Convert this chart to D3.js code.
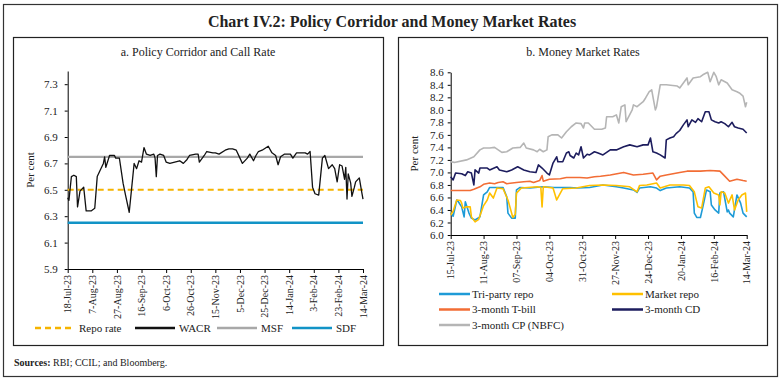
<!DOCTYPE html>
<html>
<head>
<meta charset="utf-8">
<script src="https://cdn.jsdelivr.net/npm/d3@7"></script>
<style>
  body { margin: 0; background: #fff; }
  svg { display: block; font-family: "Liberation Serif", serif; }
</style>
</head>
<body>
<svg width="781" height="382"></svg>
<script>
/* global d3 */

var parse = d3.timeParse("%Y-%m-%d");

// ---- panel a: policy corridor and call rate ----
var wacrDates = [
  "2023-07-18","2023-07-19","2023-07-21","2023-07-23","2023-07-25","2023-07-26","2023-07-28","2023-07-31",
  "2023-08-02","2023-08-06","2023-08-09","2023-08-11","2023-08-13","2023-08-16","2023-08-17","2023-08-18","2023-08-21","2023-08-25","2023-08-26","2023-08-29",
  "2023-09-01","2023-09-03","2023-09-06","2023-09-10","2023-09-12","2023-09-14","2023-09-16","2023-09-18","2023-09-20","2023-09-23","2023-09-26","2023-09-27","2023-09-28","2023-09-29",
  "2023-10-01","2023-10-04","2023-10-06","2023-10-09","2023-10-13","2023-10-17","2023-10-20","2023-10-23","2023-10-25","2023-10-30",
  "2023-11-01","2023-11-02","2023-11-06","2023-11-08","2023-11-13","2023-11-15","2023-11-18","2023-11-23","2023-11-26","2023-11-29",
  "2023-12-02","2023-12-05","2023-12-07","2023-12-11","2023-12-13","2023-12-16","2023-12-18","2023-12-20","2023-12-23","2023-12-28","2023-12-31",
  "2024-01-03","2024-01-05","2024-01-07","2024-01-10","2024-01-15","2024-01-17","2024-01-20","2024-01-27","2024-01-29","2024-01-31",
  "2024-02-02","2024-02-04","2024-02-07","2024-02-10","2024-02-12","2024-02-15","2024-02-18","2024-02-20","2024-02-22","2024-02-24","2024-02-26","2024-02-28","2024-02-29",
  "2024-03-01","2024-03-02","2024-03-04","2024-03-05","2024-03-07","2024-03-08","2024-03-11","2024-03-13","2024-03-14"
];
var wacrValues = [
  6.44,6.42,6.60,6.61,6.60,6.37,6.49,6.52,
  6.34,6.34,6.36,6.60,6.64,6.70,6.75,6.67,6.76,6.76,6.74,6.74,
  6.55,6.46,6.33,6.70,6.66,6.72,6.71,6.82,6.77,6.76,6.77,6.74,6.60,6.76,
  6.77,6.76,6.71,6.70,6.71,6.72,6.70,6.73,6.76,6.77,
  6.77,6.71,6.76,6.79,6.78,6.78,6.77,6.80,6.81,6.81,
  6.80,6.74,6.70,6.74,6.77,6.72,6.76,6.79,6.80,6.83,6.78,
  6.76,6.69,6.75,6.77,6.77,6.74,6.78,6.78,6.77,6.79,
  6.52,6.47,6.46,6.74,6.76,6.66,6.69,6.66,6.56,6.69,6.68,6.58,6.67,
  6.43,6.62,6.55,6.45,6.52,6.56,6.59,6.48,6.43
];
var policyDates = ["2023-07-18", "2024-03-14"];
var repoRate = [6.5, 6.5];
var msfRate = [6.75, 6.75];
var sdfRate = [6.25, 6.25];

var leftXTicks = ["2023-07-18","2023-08-07","2023-08-27","2023-09-16","2023-10-06","2023-10-26","2023-11-15",
  "2023-12-05","2023-12-25","2024-01-14","2024-02-03","2024-02-23","2024-03-14"];
var leftYTicks = [5.9, 6.1, 6.3, 6.5, 6.7, 6.9, 7.1, 7.3];

// ---- panel b: money market rates ----
var triDates = [
  "2023-07-15","2023-07-17","2023-07-20","2023-07-21","2023-07-24","2023-07-26","2023-07-27","2023-07-30",
  "2023-08-01","2023-08-04","2023-08-08","2023-08-11","2023-08-14","2023-08-16","2023-08-27","2023-08-30","2023-08-31",
  "2023-09-03","2023-09-06","2023-09-07","2023-09-10","2023-09-18","2023-09-29",
  "2023-10-08","2023-10-21","2023-10-27","2023-11-06","2023-11-17","2023-11-28",
  "2023-12-04","2023-12-12","2023-12-15","2023-12-17","2023-12-26","2023-12-31",
  "2024-01-03","2024-01-08","2024-01-19","2024-01-27","2024-01-30","2024-01-31",
  "2024-02-02","2024-02-05","2024-02-07","2024-02-10","2024-02-13","2024-02-14","2024-02-17","2024-02-20","2024-02-21","2024-02-24","2024-02-27","2024-02-28","2024-02-29",
  "2024-03-03","2024-03-06","2024-03-09","2024-03-11","2024-03-14"
];
var triValues = [
  6.35,6.30,6.56,6.54,6.45,6.29,6.53,6.35,
  6.27,6.24,6.29,6.64,6.69,6.76,6.76,6.61,6.35,
  6.27,6.27,6.72,6.76,6.75,6.77,
  6.76,6.76,6.75,6.76,6.80,6.77,
  6.75,6.72,6.68,6.75,6.77,6.75,
  6.71,6.75,6.77,6.75,6.69,6.35,
  6.28,6.28,6.45,6.72,6.69,6.48,6.40,6.35,6.67,6.69,6.37,6.40,6.35,
  6.29,6.64,6.51,6.35,6.29
];

var mktDates = [
  "2023-07-15","2023-07-17","2023-07-20","2023-07-23","2023-07-24","2023-07-25","2023-07-28","2023-07-31",
  "2023-08-01","2023-08-04","2023-08-07","2023-08-11","2023-08-14","2023-08-16","2023-08-19","2023-08-22","2023-08-27","2023-08-31",
  "2023-09-04","2023-09-06","2023-09-07","2023-09-11","2023-09-24","2023-09-27","2023-09-28","2023-09-29",
  "2023-10-07","2023-10-10","2023-10-13","2023-10-15","2023-10-26",
  "2023-11-06","2023-11-17","2023-11-28",
  "2023-12-09","2023-12-15","2023-12-17","2023-12-23","2023-12-31",
  "2024-01-03","2024-01-11","2024-01-22","2024-01-27","2024-01-31",
  "2024-02-03","2024-02-06","2024-02-09","2024-02-12","2024-02-16","2024-02-20","2024-02-21","2024-02-22","2024-02-25","2024-02-28",
  "2024-03-02","2024-03-04","2024-03-07","2024-03-10","2024-03-13","2024-03-14"
];
var mktValues = [
  6.32,6.38,6.56,6.55,6.51,6.43,6.45,6.45,
  6.29,6.21,6.25,6.47,6.56,6.67,6.59,6.75,6.74,6.56,
  6.28,6.33,6.67,6.75,6.77,6.76,6.45,6.77,
  6.75,6.56,6.67,6.74,6.75,
  6.79,6.80,6.79,
  6.77,6.69,6.79,6.80,6.83,
  6.75,6.80,6.80,6.79,6.69,
  6.45,6.43,6.75,6.77,6.67,6.64,6.48,6.69,6.67,6.51,
  6.64,6.40,6.56,6.64,6.67,6.37
];

var tbillDates = [
  "2023-07-15","2023-07-31","2023-08-03","2023-08-08","2023-08-11","2023-08-16","2023-08-20","2023-08-23","2023-08-27","2023-08-30",
  "2023-09-07","2023-09-13","2023-09-18","2023-09-21","2023-09-26","2023-09-28","2023-09-29",
  "2023-10-04","2023-10-13","2023-10-18","2023-10-29","2023-11-04","2023-11-10","2023-11-15","2023-11-23",
  "2023-12-04","2023-12-12","2023-12-20","2023-12-28","2023-12-31",
  "2024-01-03","2024-01-08","2024-01-19","2024-01-25",
  "2024-02-05","2024-02-13","2024-02-21","2024-02-24","2024-02-29",
  "2024-03-06","2024-03-11","2024-03-14"
];
var tbillValues = [
  6.71,6.71,6.73,6.77,6.81,6.83,6.82,6.84,6.85,6.82,
  6.84,6.85,6.86,6.84,6.87,6.95,6.86,
  6.89,6.90,6.92,6.92,6.91,6.93,6.94,6.96,
  7.00,6.96,6.97,6.99,6.88,
  6.94,6.96,7.00,7.02,
  7.02,7.03,7.02,6.96,6.86,
  6.89,6.87,6.86
];

var cdDates = [
  "2023-07-15","2023-07-17","2023-07-19","2023-07-24","2023-07-27","2023-07-29",
  "2023-08-01","2023-08-03","2023-08-04","2023-08-07","2023-08-08","2023-08-14","2023-08-16","2023-08-22","2023-08-24","2023-08-30",
  "2023-09-03","2023-09-08","2023-09-13","2023-09-18","2023-09-23","2023-09-25","2023-09-28",
  "2023-10-02","2023-10-04","2023-10-07","2023-10-10","2023-10-11","2023-10-15","2023-10-18","2023-10-20","2023-10-21","2023-10-24","2023-10-26","2023-10-28","2023-10-30",
  "2023-11-01","2023-11-04","2023-11-06","2023-11-10","2023-11-13","2023-11-17","2023-11-23","2023-11-28",
  "2023-12-04","2023-12-09","2023-12-15","2023-12-20","2023-12-24","2023-12-26","2023-12-28","2023-12-31",
  "2024-01-03","2024-01-07","2024-01-08","2024-01-11","2024-01-14","2024-01-16","2024-01-19","2024-01-22","2024-01-25","2024-01-26","2024-01-29",
  "2024-02-01","2024-02-03","2024-02-06","2024-02-09","2024-02-12","2024-02-14","2024-02-17","2024-02-20","2024-02-22","2024-02-25","2024-02-28",
  "2024-03-02","2024-03-04","2024-03-07","2024-03-11","2024-03-14"
];
var cdValues = [
  6.93,6.88,6.99,6.98,6.95,7.01,
  6.99,6.80,7.04,6.99,7.07,7.07,7.04,7.09,7.04,7.01,
  7.04,7.09,7.04,7.01,7.00,7.12,7.07,
  6.99,6.96,7.15,7.25,7.17,7.17,7.31,7.33,7.27,7.23,7.31,7.28,7.41,
  7.23,7.29,7.28,7.33,7.31,7.28,7.36,7.36,
  7.41,7.44,7.41,7.44,7.44,7.55,7.33,7.31,
  7.28,7.23,7.52,7.55,7.57,7.62,7.67,7.76,7.84,7.73,7.84,
  7.80,7.86,7.81,7.97,7.97,7.84,7.81,7.79,7.81,7.78,7.73,
  7.80,7.73,7.71,7.69,7.63
];

var cpDates = [
  "2023-07-15","2023-07-18","2023-07-28",
  "2023-08-03","2023-08-08","2023-08-11","2023-08-16","2023-08-20","2023-08-26","2023-08-30",
  "2023-09-04","2023-09-10","2023-09-13","2023-09-15","2023-09-21","2023-09-24","2023-09-26","2023-09-29",
  "2023-10-02","2023-10-03","2023-10-06","2023-10-11","2023-10-14","2023-10-18","2023-10-22","2023-10-26","2023-10-30",
  "2023-11-01","2023-11-02","2023-11-05","2023-11-10","2023-11-16","2023-11-19","2023-11-20","2023-11-25","2023-11-28","2023-11-30",
  "2023-12-02","2023-12-05","2023-12-06","2023-12-11","2023-12-12","2023-12-15","2023-12-20","2023-12-22","2023-12-25","2023-12-27","2023-12-30","2023-12-31",
  "2024-01-03","2024-01-08","2024-01-17","2024-01-19","2024-01-22","2024-01-25","2024-01-26","2024-01-30",
  "2024-02-05","2024-02-07","2024-02-11","2024-02-13","2024-02-16","2024-02-18","2024-02-20","2024-02-22","2024-02-27",
  "2024-03-02","2024-03-06","2024-03-08","2024-03-11","2024-03-13","2024-03-14"
];
var cpValues = [
  7.17,7.16,7.20,
  7.25,7.36,7.39,7.39,7.40,7.32,7.33,
  7.39,7.40,7.47,7.39,7.36,7.33,7.37,7.33,
  7.36,7.57,7.60,7.60,7.55,7.65,7.73,7.79,7.78,
  7.71,7.79,7.79,7.69,7.69,7.71,7.89,7.89,7.92,7.79,
  8.05,8.08,7.81,8.00,8.08,8.05,8.13,8.19,8.29,8.32,8.00,8.05,
  8.40,8.40,8.38,8.35,8.43,8.51,8.40,8.51,
  8.53,8.56,8.60,8.45,8.60,8.53,8.40,8.48,8.43,
  8.32,8.29,8.27,8.22,8.05,8.12
];

var rightXTicks = ["2023-07-15","2023-08-11","2023-09-07","2023-10-04","2023-10-31","2023-11-27",
  "2023-12-24","2024-01-20","2024-02-16","2024-03-14"];
var rightYTicks = [6.0, 6.2, 6.4, 6.6, 6.8, 7.0, 7.2, 7.4, 7.6, 7.8, 8.0, 8.2, 8.4, 8.6];

var svg = d3.select("svg");

// frames and titles
svg.append("rect").attr("x", 3.5).attr("y", 4.5).attr("width", 774).attr("height", 372)
  .attr("fill", "none").attr("stroke", "#333").attr("stroke-width", 1.2);
svg.append("rect").attr("x", 13.5).attr("y", 37.5).attr("width", 370).attr("height", 308)
  .attr("fill", "none").attr("stroke", "#222").attr("stroke-width", 1.2);
svg.append("rect").attr("x", 398.5).attr("y", 37.5).attr("width", 369).attr("height", 308)
  .attr("fill", "none").attr("stroke", "#222").attr("stroke-width", 1.2);

svg.append("text").attr("x", 392).attr("y", 27).attr("text-anchor", "middle")
  .style("font-size", "16px").style("font-weight", "bold").style("fill", "#222")
  .text("Chart IV.2: Policy Corridor and Money Market Rates");
svg.append("text").attr("x", 198).attr("y", 56).attr("text-anchor", "middle")
  .style("font-size", "12px").style("fill", "#222").text("a. Policy Corridor and Call Rate");
svg.append("text").attr("x", 583).attr("y", 56).attr("text-anchor", "middle")
  .style("font-size", "12px").style("fill", "#222").text("b. Money Market Rates");

var src = svg.append("text").attr("x", 14).attr("y", 366).style("font-size", "10px").style("fill", "#222");
src.append("tspan").style("font-weight", "bold").text("Sources:");
src.append("tspan").text(" RBI; CCIL; and Bloomberg.");

function toSeries(dates, values) {
  return dates.map(function(d, i) { return { date: parse(d), v: values[i] }; });
}

function drawPanel(p) {
  var x = d3.scaleTime()
    .domain([parse(p.xTicks[0]), parse(p.xTicks[p.xTicks.length - 1])])
    .range([p.x0, p.x1]);
  var y = d3.scaleLinear().domain(p.yDomain).range([p.y1, p.y0]);

  var gx = svg.append("g")
    .attr("transform", "translate(0," + p.y1 + ")")
    .call(d3.axisBottom(x)
      .tickValues(p.xTicks.map(parse))
      .tickFormat(d3.timeFormat(p.xFormat))
      .tickSize(4).tickSizeOuter(0));
  gx.attr("font-family", null).attr("font-size", 10);
  gx.selectAll("text")
    .attr("x", -6).attr("y", 0).attr("dy", "0.32em")
    .attr("transform", "rotate(-90)")
    .style("text-anchor", "end").style("fill", "#222");

  var gy = svg.append("g")
    .attr("transform", "translate(" + p.x0 + ",0)")
    .call(d3.axisLeft(y)
      .tickValues(p.yTicks)
      .tickFormat(d3.format(".1f"))
      .tickSize(3).tickSizeOuter(0).tickPadding(p.yPad));
  gy.attr("font-family", null).attr("font-size", 11);
  gy.selectAll("text").style("fill", "#222");

  svg.append("text")
    .attr("text-anchor", "middle")
    .attr("transform", "translate(" + p.labelX + "," + (p.y0 + p.y1) / 2 + ")rotate(-90)")
    .style("font-size", "11px").style("fill", "#222")
    .text("Per cent");

  var line = d3.line()
    .x(function(d) { return x(d.date); })
    .y(function(d) { return y(d.v); });

  p.series.forEach(function(s) {
    svg.append("path")
      .datum(toSeries(s.dates, s.values))
      .attr("d", line)
      .attr("fill", "none")
      .attr("stroke", s.color)
      .attr("stroke-width", s.width)
      .attr("stroke-dasharray", s.dash || null)
      .attr("stroke-linejoin", "round");
  });
}

var cRepo = "#f5b400", cWacr = "#111", cMsf = "#a8a8a8", cSdf = "#1193c6";
var cTri = "#1e9bd7", cMkt = "#ffc000", cTbill = "#f26d35", cCd = "#1d1d5e", cCp = "#b5b5b5";

drawPanel({
  x0: 67.7, x1: 363, y0: 71, y1: 269,
  yDomain: [5.9, 7.4], yTicks: leftYTicks, yPad: 7,
  xTicks: leftXTicks, xFormat: "%-d-%b-%y", labelX: 34,
  series: [
    { dates: policyDates, values: msfRate, color: cMsf, width: 2.2 },
    { dates: policyDates, values: sdfRate, color: cSdf, width: 2.6 },
    { dates: policyDates, values: repoRate, color: cRepo, width: 2, dash: "6,4" },
    { dates: wacrDates, values: wacrValues, color: cWacr, width: 1.3 }
  ]
});

drawPanel({
  x0: 450.7, x1: 746.7, y0: 72.3, y1: 235,
  yDomain: [6.0, 8.6], yTicks: rightYTicks, yPad: 4,
  xTicks: rightXTicks, xFormat: "%d-%b-%y", labelX: 418,
  series: [
    { dates: cpDates, values: cpValues, color: cCp, width: 1.6 },
    { dates: cdDates, values: cdValues, color: cCd, width: 1.6 },
    { dates: tbillDates, values: tbillValues, color: cTbill, width: 1.6 },
    { dates: triDates, values: triValues, color: cTri, width: 1.6 },
    { dates: mktDates, values: mktValues, color: cMkt, width: 1.6 }
  ]
});

// legends
var leftLegend = [
  { name: "Repo rate", color: cRepo, dash: "6,4", x: 35 },
  { name: "WACR", color: cWacr, x: 135 },
  { name: "MSF", color: cMsf, x: 217 },
  { name: "SDF", color: cSdf, x: 292 }
];
var rightLegend = [
  { name: "Tri-party repo", color: cTri, x: 439, y: 294 },
  { name: "Market repo", color: cMkt, x: 612, y: 294 },
  { name: "3-month T-bill", color: cTbill, x: 439, y: 309.5 },
  { name: "3-month CD", color: cCd, x: 612, y: 309.5 },
  { name: "3-month CP (NBFC)", color: cCp, x: 439, y: 325 }
];

svg.selectAll("line.legl")
  .data(leftLegend)
  .enter()
  .append("line")
  .attr("x1", function(d) { return d.x; })
  .attr("x2", function(d) { return d.x + 40; })
  .attr("y1", 328).attr("y2", 328)
  .attr("stroke", function(d) { return d.color; })
  .attr("stroke-width", 2.5)
  .attr("stroke-dasharray", function(d) { return d.dash || null; });

svg.selectAll("text.legl")
  .data(leftLegend)
  .enter()
  .append("text")
  .attr("x", function(d) { return d.x + 44; })
  .attr("y", 328)
  .attr("dy", "0.35em")
  .style("font-size", "11px").style("fill", "#222")
  .text(function(d) { return d.name; });

svg.selectAll("line.legr")
  .data(rightLegend)
  .enter()
  .append("line")
  .attr("x1", function(d) { return d.x; })
  .attr("x2", function(d) { return d.x + 31; })
  .attr("y1", function(d) { return d.y; })
  .attr("y2", function(d) { return d.y; })
  .attr("stroke", function(d) { return d.color; })
  .attr("stroke-width", 2.5);

svg.selectAll("text.legr")
  .data(rightLegend)
  .enter()
  .append("text")
  .attr("x", function(d) { return d.x + 33; })
  .attr("y", function(d) { return d.y; })
  .attr("dy", "0.35em")
  .style("font-size", "11px").style("fill", "#222")
  .text(function(d) { return d.name; });
</script>
</body>
</html>
